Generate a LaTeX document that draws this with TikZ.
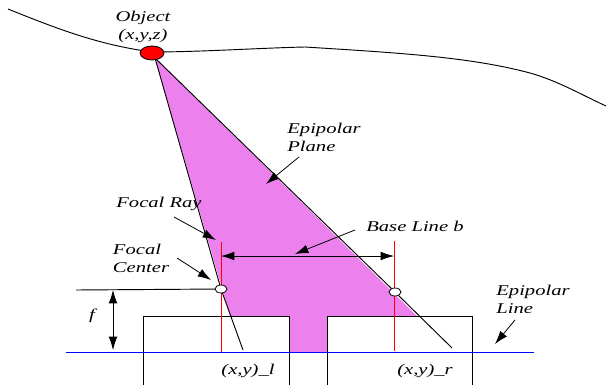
\documentclass[tikz,border=0pt]{standalone}
\usepackage{fontspec}
\setmainfont[FakeStretch=1.38]{Liberation Serif}
\usetikzlibrary{arrows.meta,shapes.geometric}
\definecolor{planepink}{RGB}{236,128,236}
\tikzset{
  x=0.75pt,y=-0.75pt,
  lbl/.style={font=\itshape\fontsize{11.2}{13.6}\selectfont,align=left,anchor=center,inner sep=0pt},
  arr/.style={-{Latex[length=10pt,width=6.5pt]},line width=0.6pt},
  darr/.style={{Latex[length=10pt,width=6.5pt]}-{Latex[length=10pt,width=6.5pt]},line width=0.6pt},
  thin line/.style={line width=0.7pt},
  hole/.style={ellipse,draw,fill=white,minimum width=9pt,minimum height=6pt,inner sep=0pt,line width=0.6pt},
}
\begin{document}
\begin{tikzpicture}
\useasboundingbox (0,0) rectangle (606,385);
\fill[planepink] (155,58) -- (230,316) -- (289,316) -- (289,352) -- (327,352) -- (327,316) -- (417,316) -- cycle;
% rectangles
\coordinate (lbl) at (143,385); \coordinate (ltl) at (143,316);
\coordinate (ltr) at (289,316); \coordinate (lbr) at (289,385);
\coordinate (rbl) at (327,385); \coordinate (rtl) at (327,316);
\coordinate (rtr) at (472,316); \coordinate (rbr) at (472,385);
\draw[thin line] (lbl) -- (ltl) -- (ltr) -- (lbr);
\draw[thin line] (rbl) -- (rtl) -- (rtr) -- (rbr);
% nodes
\coordinate (apex) at (155,58);
\coordinate (el) at (243,350); \coordinate (er) at (452,348);
\coordinate (clc) at (221,289); \coordinate (crc) at (395,292);
% rays
\draw[thin line] (apex) -- (clc) -- (el);
\draw[thin line] (apex) -- (crc) -- (er);
% surface curve
\coordinate (s0) at (8,9); \coordinate (s1) at (152,52); \coordinate (s2) at (606,106);
\draw[thin line] (s0) .. controls (60,30) and (100,45) .. (s1);
\draw[thin line] (s1) .. controls (200,52) and (260,48) .. (305,47) .. controls (400,53) and (470,57) .. (530,73) .. controls (558,81) and (580,94) .. (s2);
\node[ellipse,draw,fill=red,minimum width=18pt,minimum height=10.5pt,inner sep=0pt,line width=0.6pt] (obj) at (152,53) {};
% blue
\coordinate (b1) at (66,352); \coordinate (b2) at (534,352);
\draw[blue,line width=0.6pt] (b1) -- (b2);
% red
\coordinate (rl1) at (221,242); \coordinate (rl2) at (221,352);
\coordinate (rr1) at (394,241); \coordinate (rr2) at (394,351);
\draw[red,line width=0.6pt] (rl1) -- (rl2);
\draw[red,line width=0.6pt] (rr1) -- (rr2);
% f
\coordinate (h1) at (76,290);
\draw[thin line] (h1) -- (clc);
\node[hole] (cl) at (clc) {};
\node[hole] (cr) at (crc) {};
\coordinate (f1) at (113,290); \coordinate (f2) at (113,350);
\draw[darr] (f1) -- (f2);
% base line
\coordinate (bl1) at (221,256); \coordinate (bl2) at (394,256);
\draw[darr] (bl1) -- (bl2);
% texts
\node[lbl,align=center] (tobj) at (143,27) {Object\\(x,y,z)};
\node[lbl] (tplane) at (324,137) {Epipolar\\Plane};
\node[lbl] (tray) at (159,204) {Focal Ray};
\node[lbl] (tcen) at (141,258) {Focal\\Center};
\node[lbl] (tbase) at (415,226) {Base Line b};
\node[lbl] (tline) at (533,299) {Epipolar\\Line};
\node[lbl] (tf) at (92,316) {f};
\node[lbl] (txl) at (248,371) {(x,y)\_l};
\node[lbl] (txr) at (425,371) {(x,y)\_r};
% pointers
\coordinate (p1a) at (299,157); \coordinate (p1b) at (266,184);
\draw[arr] (p1a) -- (p1b);
\coordinate (p2a) at (174,217); \coordinate (p2b) at (216,240);
\draw[arr] (p2a) -- (p2b);
\coordinate (p3a) at (177,258); \coordinate (p3b) at (211,280);
\draw[arr] (p3a) -- (p3b);
\coordinate (p4a) at (355,230); \coordinate (p4b) at (295,254);
\draw[arr] (p4a) -- (p4b);
\coordinate (p5a) at (515,320); \coordinate (p5b) at (495,344);
\draw[arr] (p5a) -- (p5b);
\end{tikzpicture}
\end{document}
